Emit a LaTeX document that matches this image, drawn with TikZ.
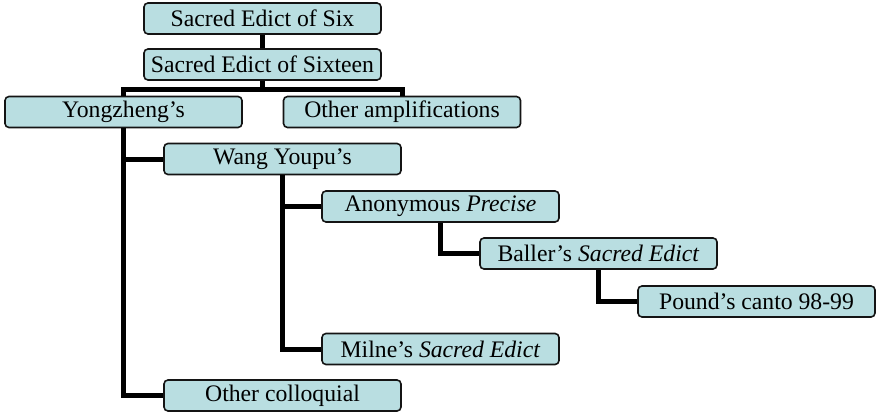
\documentclass[tikz,border=0pt]{standalone}
\usepackage{fontspec}
\setmainfont{Liberation Serif}
\definecolor{boxfill}{RGB}{185,222,225}
\definecolor{boxline}{RGB}{20,20,20}
\begin{document}
\begin{tikzpicture}[x=1pt,y=-1pt,
  item/.style={draw=boxline, line width=1.6pt, fill=boxfill, rounded corners=4pt,
    minimum width=237pt, minimum height=31pt, inner sep=0pt,
    font=\fontsize{23.7}{26}\selectfont},
  link/.style={line width=5pt, black}]
\useasboundingbox (0,0) rectangle (877,412);
\node[item] (six) at (262.5,18.5) {Sacred Edict of Six};
\node[item] (sixteen) at (262.5,64.5) {Sacred Edict of Sixteen};
\node[item] (yong) at (123.5,112) {Yongzheng’s};
\node[item] (amp) at (402,112) {Other amplifications};
\node[item] (wang) at (282.5,159) {Wang Youpu’s};
\node[item] (anon) at (440.5,206.5) {Anonymous \textit{Precise}};
\node[item] (baller) at (598.5,253.5) {Baller’s \textit{Sacred Edict}};
\node[item] (pound) at (756.5,301.5) {Pound’s canto 98-99};
\node[item] (milne) at (440.5,349) {Milne’s \textit{Sacred Edict}};
\node[item] (coll) at (282.5,395.5) {Other colloquial};
\draw[link] (six.south) -- (sixteen.north);
\draw[link] (sixteen.south) -- ++(0,8.5) -| (yong.north);
\draw[link] (sixteen.south) -- ++(0,8.5) -| (amp.north);
\draw[link] (yong.south) |- (wang.west);
\draw[link] (yong.south) |- (coll.west);
\draw[link] (wang.south) |- (anon.west);
\draw[link] (wang.south) |- (milne.west);
\draw[link] (anon.south) |- (baller.west);
\draw[link] (baller.south) |- (pound.west);
\end{tikzpicture}
\end{document}
